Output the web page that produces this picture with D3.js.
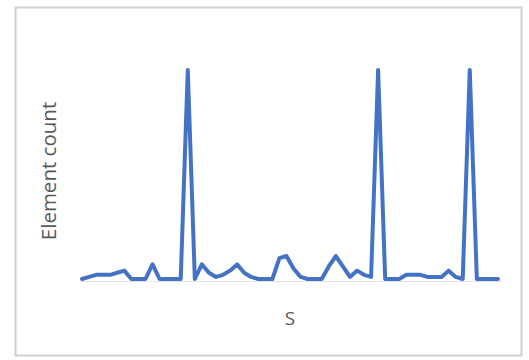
<!DOCTYPE html>
<html><head><meta charset="utf-8">
<script src="https://cdn.jsdelivr.net/npm/d3@7"></script>
<style>html,body{margin:0;padding:0;background:#fff;}svg{display:block;}</style>
</head><body>
<script>
// Category indices (S) and element counts
const categories = d3.range(1, 61);
const counts = [
  0, 1, 2, 2, 2, 3, 4, 0, 0, 0,
  7, 0, 0, 0, 0, 100, 0, 7, 3, 1,
  2, 4, 7, 3, 1, 0, 0, 0, 10, 11,
  5, 1, 0, 0, 0, 6, 11, 6, 1, 4,
  2, 1, 100, 0, 0, 0, 2, 2, 2, 1,
  1, 1, 4, 1, 0, 100, 0, 0, 0, 0
];
const xTitle = "S";
const yTitle = "Element count";

const W = 529, H = 360;
const svg = d3.select("body").append("svg").attr("width", W).attr("height", H);

// chart border
svg.append("rect").attr("x", 15.5).attr("y", 7.5).attr("width", 506).attr("height", 348)
  .attr("fill", "#fff").attr("stroke", "#cfcfcf").attr("stroke-width", 2);

const x = d3.scalePoint().domain(categories).range([78.5, 501.5]).padding(0.5);
const y = d3.scaleLinear().domain([0, 100]).range([279, 70]);

// horizontal axis line (no ticks / labels)
svg.append("g").attr("transform", `translate(0,${y(0) + 2})`)
  .call(d3.axisBottom(x).tickSize(0).tickFormat(""))
  .call(g => g.select(".domain").attr("stroke", "#e3e3e3").attr("stroke-width", 1));

const line = d3.line().x((d, i) => x(categories[i])).y(d => y(d));
svg.append("path").datum(counts).attr("d", line)
  .attr("fill", "none").attr("stroke", "#4472C4").attr("stroke-width", 4)
  .attr("stroke-linejoin", "round").attr("stroke-linecap", "round");

svg.append("text").attr("x", 290).attr("y", 325).attr("text-anchor", "middle")
  .attr("font-family", "Open Sans, sans-serif").attr("font-size", 19).attr("fill", "#595959")
  .text(xTitle);
svg.append("text").attr("transform", "translate(56,171) rotate(-90)").attr("text-anchor", "middle")
  .attr("font-family", "Open Sans, sans-serif").attr("font-size", 20.5).attr("fill", "#595959")
  .text(yTitle);
</script>
</body></html>
